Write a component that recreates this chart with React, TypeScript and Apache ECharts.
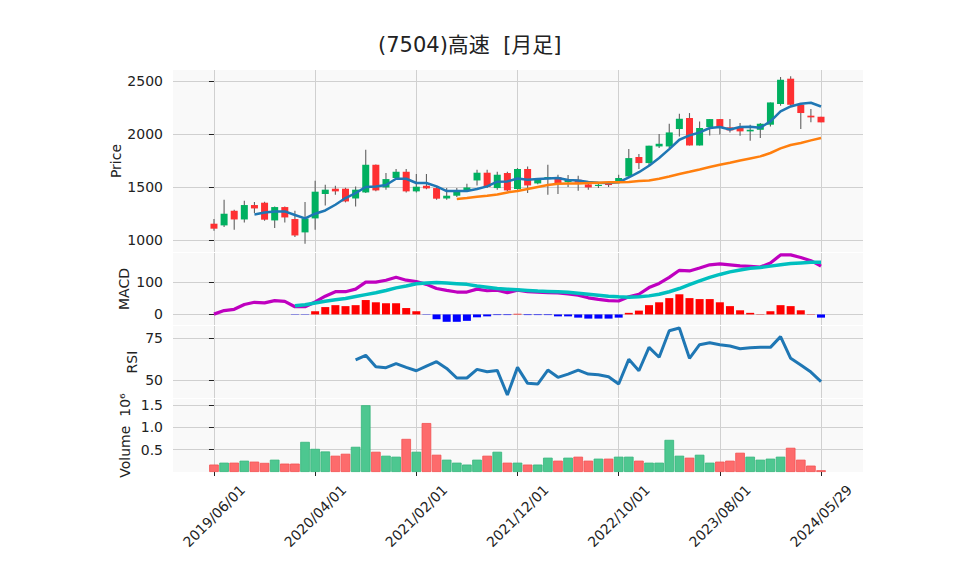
import React, { useEffect, useRef } from "react";
import * as echarts from "echarts";

const dates = [
  "2019/06/01","2019/07/01","2019/08/01","2019/09/01","2019/10/01","2019/11/01","2019/12/01",
  "2020/01/01","2020/02/01","2020/03/01","2020/04/01","2020/05/01","2020/06/01","2020/07/01","2020/08/01","2020/09/01","2020/10/01","2020/11/01","2020/12/01",
  "2021/01/01","2021/02/01","2021/03/01","2021/04/01","2021/05/01","2021/06/01","2021/07/01","2021/08/01","2021/09/01","2021/10/01","2021/11/01","2021/12/01",
  "2022/01/01","2022/02/01","2022/03/01","2022/04/01","2022/05/01","2022/06/01","2022/07/01","2022/08/01","2022/09/01","2022/10/01","2022/11/01","2022/12/01",
  "2023/01/01","2023/02/01","2023/03/01","2023/04/01","2023/05/01","2023/06/01","2023/07/01","2023/08/01","2023/09/01","2023/10/01","2023/11/01","2023/12/01",
  "2024/01/01","2024/02/01","2024/03/01","2024/04/01","2024/05/01","2024/05/29",
];
const tickIdx = [0, 10, 20, 30, 40, 50, 60];

const opens = [1154,1138,1276,1194,1330,1352,1185,1311,1198,1072,1204,1434,1484,1484,1392,1449,1710,1496,1585,1644,1459,1512,1490,1392,1418,1472,1562,1635,1490,1632,1481,1670,1534,1575,1594,1547,1569,1525,1515,1530,1553,1600,1783,1726,1883,1883,2047,2151,1892,2066,2141,2063,2057,2025,2040,2088,2283,2522,2276,2173,2163];
const closes = [1107,1248,1194,1330,1298,1192,1311,1213,1043,1204,1456,1475,1459,1364,1475,1710,1468,1575,1644,1459,1503,1487,1390,1418,1468,1496,1635,1500,1616,1468,1670,1515,1569,1594,1538,1575,1541,1496,1521,1521,1585,1773,1726,1890,1908,2015,2144,1892,2057,2141,2066,2034,2025,2040,2097,2298,2512,2276,2198,2157,2110];
const highs = [1198,1380,1286,1371,1358,1362,1317,1317,1276,1358,1560,1522,1512,1493,1506,1852,1712,1632,1669,1669,1623,1623,1506,1490,1490,1531,1663,1663,1644,1644,1679,1694,1585,1710,1616,1613,1607,1550,1538,1553,1616,1858,1811,1890,2000,2097,2191,2198,2119,2141,2141,2141,2104,2088,2104,2298,2538,2545,2276,2236,2163];
const lows = [1088,1123,1097,1166,1255,1182,1113,1166,1028,965,1097,1326,1427,1355,1317,1443,1460,1475,1575,1449,1449,1480,1380,1380,1405,1459,1515,1490,1475,1459,1475,1443,1525,1427,1434,1500,1465,1475,1490,1500,1553,1594,1670,1700,1868,1868,1977,1892,1892,1987,1996,2015,1984,1937,1962,2072,2267,2267,2047,2110,2110];

const volumeMillions = [0.167,0.21,0.21,0.255,0.233,0.205,0.277,0.189,0.189,0.677,0.52,0.462,0.366,0.41,0.566,1.5,0.455,0.366,0.344,0.744,0.455,1.1,0.388,0.277,0.21,0.167,0.277,0.366,0.455,0.21,0.21,0.167,0.167,0.322,0.255,0.322,0.344,0.255,0.3,0.3,0.344,0.344,0.255,0.21,0.21,0.722,0.366,0.322,0.388,0.21,0.233,0.255,0.433,0.344,0.277,0.3,0.344,0.544,0.277,0.144,0.04];

const ma5 = [null,null,null,null,1241,1260,1270,1270,1236,1204,1248,1279,1333,1396,1443,1500,1506,1519,1578,1578,1538,1538,1506,1462,1462,1462,1481,1506,1550,1553,1581,1569,1575,1581,1585,1566,1562,1547,1541,1538,1544,1590,1640,1701,1774,1858,1946,1987,2015,2057,2066,2043,2066,2069,2060,2119,2213,2260,2286,2295,2260];
const ma25 = [null,null,null,null,null,null,null,null,null,null,null,null,null,null,null,null,null,null,null,null,null,null,null,null,1387,1396,1408,1418,1430,1449,1462,1481,1500,1519,1531,1534,1534,1538,1541,1544,1544,1547,1556,1562,1578,1600,1623,1644,1666,1689,1710,1729,1751,1770,1789,1821,1864,1896,1915,1940,1962];

const macd = [1,12,16,31,38,36,43,41,24,24,39,57,71,71,79,101,101,107,116,107,103,94,81,75,70,70,79,74,76,68,76,71,70,68,67,64,60,52,47,43,42,55,63,84,97,116,138,136,145,155,158,155,152,150,148,161,186,186,178,168,151];
const signal = [null,null,null,null,null,null,null,null,27,30,36,41,46,50,56,62,68,75,83,89,96,98,100,98,96,94,89,85,81,79,77,75,73,72,71,69,66,63,60,57,55,54,55,58,63,71,81,93,105,116,125,133,139,144,147,151,155,159,161,163,163];
const hist = [null,null,null,null,null,null,null,null,-1,-1,10,23,29,26,29,45,38,35,35,20,10,-1,-15,-23,-23,-20,-9,-6,-2,-2,2,-2,-2,-2,-6,-6,-10,-13,-13,-13,-10,5,12,29,38,51,63,51,48,48,38,26,13,5,1,10,29,26,13,1,-10];

const rsi = [null,null,null,null,null,null,null,null,null,null,null,null,null,null,62.1,64.9,58.1,57.5,59.9,57.7,55.7,58.5,61.1,57.1,51.4,51.4,56.5,55.1,55.9,41.3,57.7,48.2,47.8,56.1,51.8,53.7,56.1,53.7,53.3,52.1,47.8,62.5,55.7,69.6,63.7,79.5,81.1,63.1,71.2,72.4,71.2,70.4,68.8,69.4,69.6,69.6,76.0,63.1,59.1,54.9,49.2];

const FONT = "DejaVu Sans";
const FS = 14;
const TXT = "#222222";
const GRIDC = "#d0d0d0";
const UP = "#00b060";
const DOWN = "#fe3032";
const VUP = "#4dc790";
const VDOWN = "#fd6b6c";

const pairs = (arr: (number | null)[]) =>
  arr.map((v, i) => [i, v]).filter((d) => d[1] !== null);

export default function App() {
  const ref = useRef<HTMLDivElement>(null);
  useEffect(() => {
    if (!ref.current) return;
    const chart = echarts.init(ref.current, null, { renderer: "svg" });
    const gridDefs = [
      { top: 70, height: 182 },
      { top: 253, height: 72 },
      { top: 326, height: 72 },
      { top: 399, height: 73 },
    ];
    const grid = gridDefs.map((g) => ({
      left: 173,
      width: 690,
      top: g.top,
      height: g.height,
      show: true,
      backgroundColor: "#f9f9f9",
      borderWidth: 0,
    }));
    const xAxis = gridDefs.map((_, gi) => {
      const last = gi === 3;
      return {
        type: "value",
        gridIndex: gi,
        min: -4.05,
        max: 64.15,
        axisLine: { show: false },
        axisTick: {
          show: last,
          customValues: tickIdx,
          length: 4,
          lineStyle: { color: TXT },
        },
        axisLabel: {
          show: last,
          customValues: tickIdx,
          formatter: (v: number) => dates[Math.round(v)] ?? "",
          rotate: 45,
          align: "center",
          verticalAlign: "middle",
          margin: 44,
          fontSize: FS,
          fontFamily: FONT,
          color: TXT,
        },
        splitLine: { show: true, lineStyle: { color: GRIDC, width: 1 } },
      };
    });
    const yDef = (
      gi: number,
      min: number,
      max: number,
      vals: number[],
      name: string,
      nameGap: number,
      fmt?: (v: number) => string
    ) => ({
      type: "value",
      gridIndex: gi,
      min,
      max,
      axisLine: { show: false },
      axisTick: { show: true, customValues: vals, length: 5, lineStyle: { color: TXT } },
      axisLabel: {
        customValues: vals,
        fontSize: FS,
        fontFamily: FONT,
        color: TXT,
        margin: 10,
        formatter: fmt ? fmt : (v: number) => String(v),
      },
      splitLine: { show: true, lineStyle: { color: GRIDC, width: 1 } },
      name,
      nameLocation: "middle",
      nameGap,
      nameRotate: 90,
      nameMoveOverlap: false,
      nameTextStyle: { fontSize: FS, fontFamily: FONT, color: TXT },
    });
    const yAxis = [
      yDef(0, 887, 2604, [1000, 1500, 2000, 2500], "Price", 50),
      yDef(1, -33, 192, [0, 100], "MACD", 42),
      yDef(2, 39.5, 82.3, [50, 75], "RSI", 34),
      yDef(3, 0, 1.64, [0.5, 1.0, 1.5], "Volume  10\u2076", 41, (v: number) => v.toFixed(1)),
    ];

    const candleData = opens.map((o, i) => [i, o, closes[i], lows[i], highs[i]]);
    const volData = volumeMillions.map((v, i) => ({
      value: [i, v],
      itemStyle: {
        color: closes[i] >= opens[i] ? VUP : VDOWN,
        borderColor: closes[i] >= opens[i] ? "#35b57b" : "#f25152",
        borderWidth: 0.8,
      },
    }));
    const histData = hist
      .map((v, i) => [i, v])
      .filter((d) => d[1] !== null)
      .map((d) => ({
        value: d,
        itemStyle: { color: (d[1] as number) >= 0 ? "#ff0000" : "#0000ff" },
      }));

    chart.setOption({
      animation: false,
      backgroundColor: "#ffffff",
      title: {
        text: "(7504)高速  [月足]",
        left: 373,
        top: 29,
        textStyle: {
          fontFamily: "DejaVu Sans, Noto Sans CJK JP",
          fontSize: 21,
          fontWeight: "normal",
          color: TXT,
        },
      },
      grid,
      xAxis,
      yAxis,
      series: [
        {
          type: "custom",
          name: "candles",
          xAxisIndex: 0,
          yAxisIndex: 0,
          data: candleData,
          encode: { x: 0, y: [1, 2, 3, 4] },
          renderItem: (params: any, api: any) => {
            const i = api.value(0);
            const o = api.value(1);
            const c = api.value(2);
            const l = api.value(3);
            const h = api.value(4);
            const pO = api.coord([i, o]);
            const pC = api.coord([i, c]);
            const pL = api.coord([i, l]);
            const pH = api.coord([i, h]);
            const w = 7;
            const up = c >= o;
            const top = Math.min(pO[1], pC[1]);
            const ht = Math.max(Math.abs(pO[1] - pC[1]), 1.2);
            return {
              type: "group",
              children: [
                {
                  type: "line",
                  shape: { x1: pL[0], y1: pL[1], x2: pH[0], y2: pH[1] },
                  style: { stroke: "#606060", lineWidth: 1.1 },
                },
                {
                  type: "rect",
                  shape: { x: pO[0] - w / 2, y: top, width: w, height: ht },
                  style: { fill: up ? UP : DOWN, stroke: null },
                },
              ],
            };
          },
          z: 3,
        },
        {
          type: "line",
          name: "MA5",
          xAxisIndex: 0,
          yAxisIndex: 0,
          data: pairs(ma5),
          showSymbol: false,
          lineStyle: { color: "#1f77b4", width: 2.5 },
          z: 4,
        },
        {
          type: "line",
          name: "MA25",
          xAxisIndex: 0,
          yAxisIndex: 0,
          data: pairs(ma25),
          showSymbol: false,
          lineStyle: { color: "#ff7f0e", width: 2.5 },
          z: 4,
        },
        {
          type: "bar",
          name: "hist",
          xAxisIndex: 1,
          yAxisIndex: 1,
          data: histData,
          barWidth: 8,
          z: 2,
        },
        {
          type: "line",
          name: "MACD",
          xAxisIndex: 1,
          yAxisIndex: 1,
          data: pairs(macd),
          showSymbol: false,
          lineStyle: { color: "#bf00bf", width: 3.2 },
          z: 4,
        },
        {
          type: "line",
          name: "Signal",
          xAxisIndex: 1,
          yAxisIndex: 1,
          data: pairs(signal),
          showSymbol: false,
          lineStyle: { color: "#00bfbf", width: 3.5 },
          z: 5,
        },
        {
          type: "line",
          name: "RSI",
          xAxisIndex: 2,
          yAxisIndex: 2,
          data: pairs(rsi),
          showSymbol: false,
          lineStyle: { color: "#1f77b4", width: 3 },
          z: 4,
        },
        {
          type: "bar",
          name: "Volume",
          xAxisIndex: 3,
          yAxisIndex: 3,
          data: volData,
          barWidth: 9.6,
          z: 2,
        },
      ],
    });
    return () => chart.dispose();
  }, []);
  return (
    <div
      ref={ref}
      style={{ position: "absolute", left: 0, top: 0, width: 958, height: 575 }}
    />
  );
}
